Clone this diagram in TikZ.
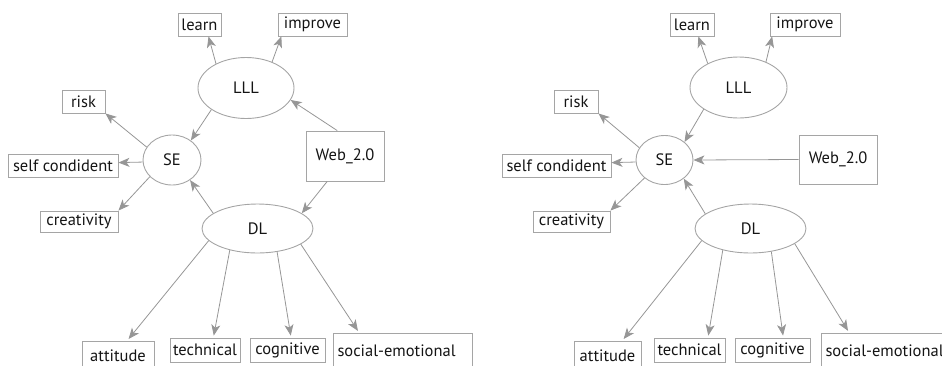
\documentclass[tikz,border=0pt]{standalone}
\usepackage{fontspec}
\setmainfont{PT Sans}
\usetikzlibrary{arrows.meta,shapes.geometric}
\definecolor{lc}{RGB}{150,150,150}
\definecolor{bc}{RGB}{165,165,165}
\definecolor{tc}{RGB}{20,20,20}
\begin{document}
\begin{tikzpicture}[x=1pt,y=-1pt,
  box/.style={draw=bc,line width=0.9pt,inner sep=0pt,text=tc,font=\fontsize{16.5}{19}\selectfont},
  ell/.style={draw=bc,ellipse,line width=0.9pt,inner sep=0pt,text=tc,font=\fontsize{16.5}{19}\selectfont},
  soc/.style={box,minimum height=36pt,inner xsep=4.5pt,text width=130pt,align=left},
  arr/.style={draw=lc,line width=0.8pt,-{Stealth[length=11pt,width=9pt,inset=3pt]}},
  arrb/.style={arr,shorten >=2pt}]
\useasboundingbox (0,0) rectangle (942,365);
\clip (0,0) rectangle (942,365);
% ---------- left panel ----------
\node[box,minimum width=43pt,minimum height=23pt] (learn) at (199.5,24.5) {learn};
\node[box,minimum width=69pt,minimum height=23pt] (improve) at (312.5,24.5) {improve};
\node[ell,minimum width=96pt,minimum height=61pt] (lll) at (246,88) {LLL};
\node[box,minimum width=43pt,minimum height=23pt] (risk) at (83.5,101.5) {risk};
\node[box,minimum width=78pt,minimum height=50pt] (web) at (345,156) {Web\_2.0};
\node[ell,minimum width=58pt,minimum height=50pt] (se) at (172,160) {SE};
\node[box,minimum width=110pt,minimum height=23pt] (self) at (63,165.5) {self condident};
\node[box,minimum width=78pt,minimum height=21pt] (creat) at (79,221.5) {creativity};
\node[ell,minimum width=111pt,minimum height=49pt] (dl) at (257.5,228.5) {DL};
\node[box,minimum width=72pt,minimum height=30pt] (att) at (118,356) {attitude};
\node[box,minimum width=70pt,minimum height=24pt] (tech) at (205,350) {technical};
\node[box,minimum width=75pt,minimum height=24pt] (cog) at (287.5,350) {cognitive};
\node[soc] (socl) at (402.5,351) {social-emotional};
\draw[arr] (lll.141) -- (learn.-53);
\draw[arr] (lll.45) -- (improve.-159);
\draw[arr] (web.107) -- (lll.-15);
\draw[arr] (lll.-148) -- (se.46);
\draw[arr] (se.153) -- (risk.south east);
\draw[arr] (se.184) -- (self.3);
\draw[arr] (se.-143) -- (creat.north east);
\draw[arr] (dl.161) -- (se.-48);
\draw[arr] (web.-125) -- (dl.19);
\draw[arrb] (dl.-166) -- (att.59);
\draw[arrb] (dl.-142) -- (tech.56);
\draw[arrb] (dl.-50) -- (cog.74);
\draw[arrb] (dl.-20) -- (socl.157);
% ---------- right panel ----------
\node[box,minimum width=44pt,minimum height=23pt] (learnR) at (692,24.5) {learn};
\node[box,minimum width=70pt,minimum height=23pt] (improveR) at (805,24.5) {improve};
\node[ell,minimum width=97pt,minimum height=61pt] (lllR) at (738.5,87.5) {LLL};
\node[box,minimum width=44pt,minimum height=23pt] (riskR) at (576,101.5) {risk};
\node[box,minimum width=78pt,minimum height=49pt] (webR) at (838,159.5) {Web\_2.0};
\node[ell,minimum width=57pt,minimum height=49pt] (seR) at (664.5,160) {SE};
\node[box,minimum width=109pt,minimum height=23pt] (selfR) at (556.5,165.5) {self condident};
\node[box,minimum width=77pt,minimum height=21pt] (creatR) at (571.5,221.5) {creativity};
\node[ell,minimum width=111pt,minimum height=49pt] (dlR) at (750.5,228.5) {DL};
\node[box,minimum width=67pt,minimum height=30pt] (attR) at (607.5,356) {attitude};
\node[box,minimum width=71pt,minimum height=24pt] (techR) at (689.5,350) {technical};
\node[box,minimum width=75pt,minimum height=24pt] (cogR) at (772.5,350) {cognitive};
\node[soc] (socR) at (890.5,351) {social-emotional};
\draw[arr] (lllR.142) -- (learnR.-62);
\draw[arr] (lllR.43) -- (improveR.-160);
\draw[arr] (lllR.-148) -- (seR.42);
\draw[arr] (seR.154) -- (riskR.south east);
\draw[arr] (seR.184) -- (selfR.3);
\draw[arr] (seR.-138) -- (creatR.north east);
\draw[arr] (webR.west) -- (seR.east);
\draw[arr] (dlR.162) -- (seR.-44);
\draw[arrb] (dlR.-166) -- (attR.46);
\draw[arrb] (dlR.-142) -- (techR.34);
\draw[arrb] (dlR.-48) -- (cogR.49);
\draw[arrb] (dlR.-19) -- (socR.156);
\end{tikzpicture}
\end{document}
